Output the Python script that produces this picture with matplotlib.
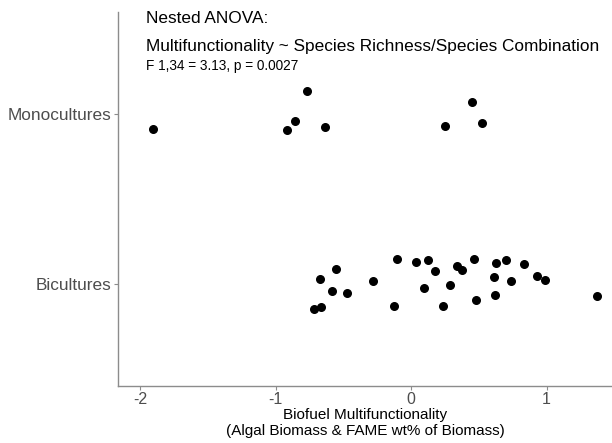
import matplotlib
matplotlib.use("Agg")
import matplotlib.pyplot as plt

plt.rcParams['font.family'] = ['Liberation Sans', 'DejaVu Sans']

categories = ["Bicultures", "Monocultures"]

mono_x = [-1.906, -0.913, -0.854, -0.768, -0.635, 0.251, 0.452, 0.526]
mono_y = [1.910, 1.904, 1.960, 2.133, 1.922, 1.931, 2.069, 1.947]

bi_x = [-0.106, 0.037, -0.556, -0.674, -0.280, -0.581, -0.472, -0.664, -0.716,
        -0.128, 0.125, 0.177, 0.339, 0.379, 0.465, 0.627, 0.703, 0.836, 0.098,
        0.288, 0.615, 0.738, 0.932, 0.991, 0.236, 0.477, 0.622, 1.375]
bi_y = [1.145, 1.131, 1.090, 1.028, 1.019, 0.959, 0.949, 0.866, 0.855,
        0.871, 1.139, 1.076, 1.106, 1.082, 1.149, 1.125, 1.143, 1.119, 0.975,
        0.996, 1.043, 1.019, 1.047, 1.024, 0.871, 0.908, 0.934, 0.931]

x_ticks = [-2, -1, 0, 1]

fig = plt.figure(figsize=(6.12, 4.43), dpi=100)
ax = fig.add_axes([118/612, 1-386/443, 1-118/612, (386-12)/443])

ax.scatter(mono_x, mono_y, s=30, color='black', zorder=3)
ax.scatter(bi_x, bi_y, s=30, color='black', zorder=3)

ax.set_xlim(-2.163, 1.483)
ax.set_ylim(0.4, 2.6)
ax.set_xticks(x_ticks)
ax.set_xticklabels([str(t) for t in x_ticks])
ax.set_yticks([1, 2])
ax.set_yticklabels(categories)

for s in ['top', 'right']:
    ax.spines[s].set_visible(False)
for s in ['left', 'bottom']:
    ax.spines[s].set_color('#8c8c8c')
    ax.spines[s].set_linewidth(1.0)
ax.tick_params(colors='#8c8c8c', length=3, width=0.8, labelcolor='#4d4d4d', labelsize=12.4, pad=2)
ax.tick_params(axis='x', labelsize=11.5, pad=1)

ax.set_xlabel("Biofuel Multifunctionality\n(Algal Biomass & FAME wt% of Biomass)",
              fontsize=11, color='black', labelpad=1, linespacing=1.15)

ax.text(-1.96, 2.56, "Nested ANOVA:", fontsize=12.4, ha='left', va='center')
ax.text(-1.96, 2.40, "Multifunctionality ~ Species Richness/Species Combination",
        fontsize=12.4, ha='left', va='center')
ax.text(-1.96, 2.28, "F 1,34 = 3.13, p = 0.0027", fontsize=9.8, ha='left', va='center')

fig.savefig("out.png", dpi=100)
